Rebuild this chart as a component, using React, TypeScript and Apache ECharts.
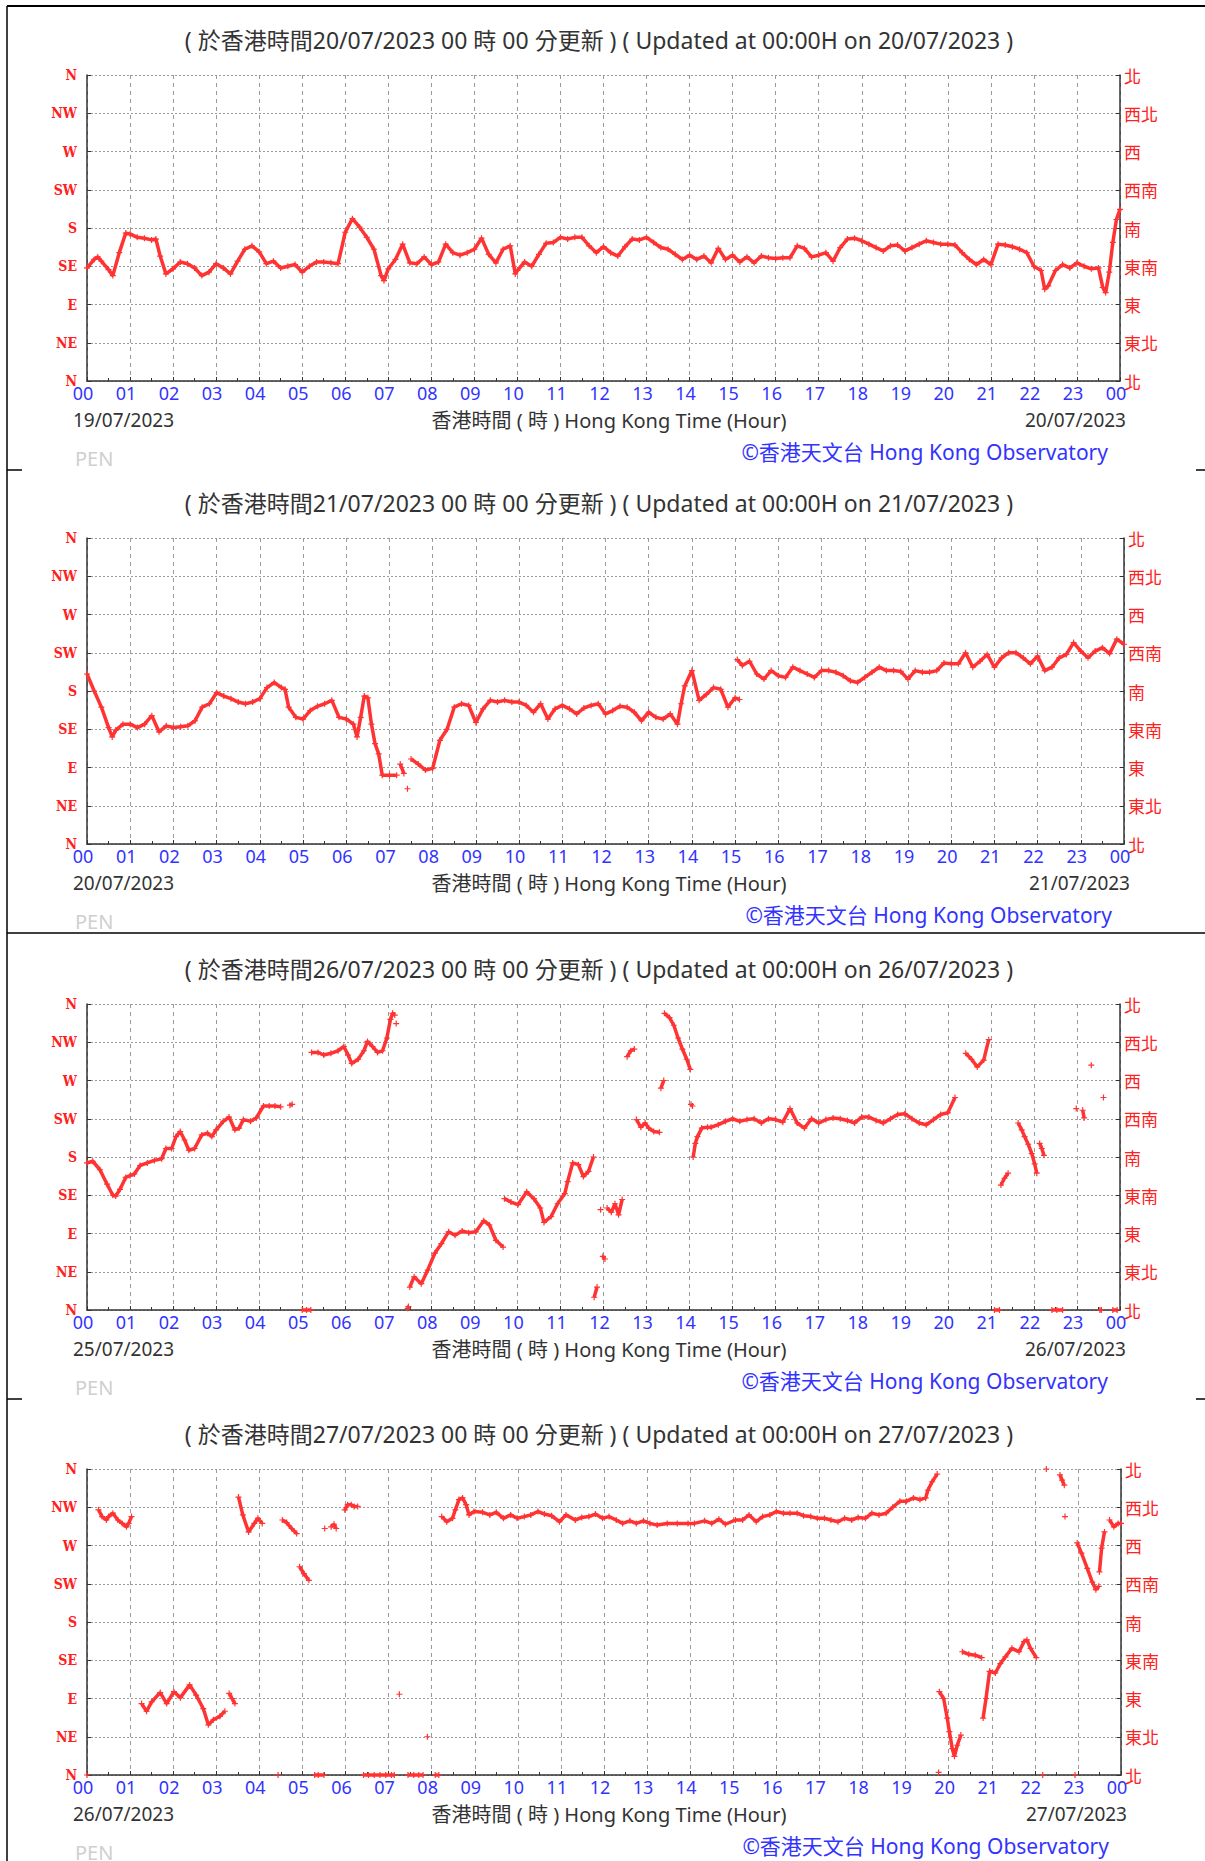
import React, { useEffect, useRef } from 'react';
import * as echarts from 'echarts';

// ---------------- data ----------------
const updateDates = ['20/07/2023', '21/07/2023', '26/07/2023', '27/07/2023'];
const startDates = ['19/07/2023', '20/07/2023', '25/07/2023', '26/07/2023'];
const endDates = ['20/07/2023', '21/07/2023', '26/07/2023', '27/07/2023'];
const hourLabels = ['00', '01', '02', '03', '04', '05', '06', '07', '08', '09', '10', '11', '12',
  '13', '14', '15', '16', '17', '18', '19', '20', '21', '22', '23', '00'];
const dirEn = ['N', 'NE', 'E', 'SE', 'S', 'SW', 'W', 'NW', 'N'];
const dirZh = ['北', '東北', '東', '東南', '南', '西南', '西', '西北', '北'];
const stationName = 'PEN';

type Obs = ([number, number] | null)[];
// [minutes after 00:00, wind direction in degrees]; null = gap in record

const panel1Obs: Obs = [
  [0, 133], [10, 143], [15, 146], [20, 141], [30, 131], [36, 124], [45, 151], [54, 174], [60, 173], [70, 169],
  [80, 168], [90, 166], [96, 167], [102, 147], [110, 126], [120, 132], [130, 140], [140, 138], [150, 133], [160, 124],
  [170, 128], [180, 138], [190, 133], [200, 126], [210, 141], [220, 155], [230, 159], [240, 152], [250, 138], [260, 141],
  [270, 133], [280, 135], [290, 137], [300, 128], [310, 135], [320, 140], [330, 140], [340, 139], [350, 138], [360, 175],
  [370, 191], [380, 181], [390, 169], [400, 155], [410, 124], [414, 118], [420, 132], [430, 143], [440, 161], [450, 139],
  [460, 138], [470, 146], [480, 137], [490, 140], [500, 161], [510, 151], [520, 148], [530, 151], [540, 155], [550, 168],
  [560, 149], [570, 139], [580, 155], [590, 159], [597, 126], [600, 130], [610, 140], [620, 135], [630, 149], [640, 162],
  [650, 163], [660, 169], [670, 167], [680, 169], [690, 169], [700, 159], [710, 151], [720, 158], [730, 151], [740, 147],
  [750, 158], [760, 167], [770, 166], [780, 169], [790, 163], [800, 157], [810, 155], [820, 149], [830, 143], [840, 148],
  [850, 143], [860, 147], [870, 139], [880, 156], [890, 143], [900, 148], [910, 140], [920, 146], [930, 139], [940, 147],
  [950, 145], [960, 144], [970, 145], [980, 145], [990, 159], [1000, 156], [1010, 146], [1020, 148], [1030, 151], [1040, 141],
  [1050, 157], [1060, 167], [1070, 168], [1080, 165], [1090, 161], [1100, 157], [1110, 153], [1120, 159], [1130, 160], [1140, 153],
  [1150, 157], [1160, 161], [1170, 165], [1180, 163], [1190, 161], [1200, 161], [1210, 160], [1220, 151], [1230, 143], [1240, 137],
  [1250, 143], [1260, 137], [1270, 161], [1280, 160], [1290, 158], [1300, 155], [1310, 151], [1320, 135], [1330, 130], [1335, 108],
  [1340, 112], [1350, 130], [1360, 137], [1370, 133], [1380, 139], [1390, 135], [1400, 132], [1410, 133], [1416, 110], [1420, 104],
  [1425, 128], [1430, 163], [1435, 190], [1440, 202],
];

const panel2Obs: Obs = [
  [0, 200], [10, 180], [20, 161], [30, 137], [35, 126], [40, 134], [50, 141], [60, 141], [70, 137], [80, 141],
  [90, 151], [100, 132], [110, 139], [120, 137], [130, 138], [140, 139], [150, 145], [160, 161], [170, 165], [180, 178],
  [190, 174], [200, 171], [210, 167], [220, 165], [230, 167], [240, 171], [250, 184], [260, 190], [270, 184], [275, 182],
  [280, 161], [290, 149], [300, 147], [310, 157], [320, 162], [330, 165], [340, 169], [350, 149], [360, 147], [370, 141],
  [375, 126], [380, 149], [385, 174], [390, 172], [395, 141], [400, 118], [405, 106], [410, 81], [420, 81], [430, 81],
  null, [435, 94], [440, 83], null, [445, 65], null,
  [450, 100], [460, 94], [470, 87], [480, 89], [490, 122], [500, 135], [510, 161], [520, 165], [530, 163], [540, 143],
  [550, 159], [560, 169], [570, 167], [580, 169], [590, 167], [600, 167], [610, 163], [620, 155], [630, 165], [640, 147],
  [650, 159], [660, 163], [670, 159], [680, 153], [690, 160], [700, 163], [710, 165], [720, 153], [730, 157], [740, 162],
  [750, 161], [760, 155], [770, 145], [780, 155], [790, 149], [800, 147], [810, 153], [820, 141], [825, 165], [830, 186],
  [840, 204], [850, 169], [860, 176], [870, 184], [880, 182], [890, 161], [900, 172], [906, 170], null,
  [903, 217], [910, 210], [920, 215], [930, 200], [940, 194], [950, 204], [960, 198], [970, 196], [980, 208], [990, 204],
  [1000, 200], [1010, 196], [1020, 204], [1030, 204], [1040, 202], [1050, 198], [1060, 192], [1070, 190], [1080, 196], [1090, 202],
  [1100, 208], [1110, 204], [1120, 204], [1130, 203], [1140, 194], [1150, 204], [1160, 202], [1170, 202], [1180, 204], [1190, 213],
  [1200, 212], [1210, 212], [1220, 225], [1230, 208], [1240, 215], [1250, 223], [1260, 208], [1270, 219], [1280, 225], [1290, 225],
  [1300, 219], [1310, 212], [1320, 221], [1330, 204], [1340, 208], [1350, 219], [1360, 223], [1370, 237], [1380, 227], [1390, 219],
  [1400, 227], [1410, 231], [1420, 224], [1430, 241], [1440, 235],
];

const panel3Obs: Obs = [
  [0, 173], [8, 175], [18, 165], [28, 148], [36, 135], [40, 134], [46, 142], [54, 156], [60, 158], [66, 160],
  [74, 170], [84, 173], [94, 176], [104, 178], [110, 190], [118, 190], [124, 204], [130, 210], [136, 200], [142, 188],
  [150, 190], [160, 206], [168, 208], [174, 204], [180, 212], [190, 222], [198, 227], [206, 212], [212, 214], [218, 224],
  [228, 222], [236, 226], [246, 240], [254, 240], [262, 240], [270, 239], null, [283, 241], [286, 242], null,
  [300, 0], [306, 0], [312, 0], null,
  [313, 303], [322, 303], [330, 300], [340, 302], [350, 305], [358, 310], [364, 300], [369, 290], [378, 295], [386, 305],
  [391, 316], [398, 310], [405, 303], [412, 305], [418, 320], [423, 342], [426, 349], [429, 347], null, [431, 337], null,
  [447, 2], [448, 4], null,
  [450, 27], [456, 39], [466, 31], [475, 47], [485, 67], [494, 78], [504, 92], [513, 88], [523, 93], [532, 91],
  [542, 92], [553, 105], [561, 100], [570, 82], [580, 74], null,
  [582, 131], [591, 127], [601, 124], [613, 139], [623, 131], [632, 120], [637, 103], [647, 110], [656, 125], [666, 137],
  [670, 151], [677, 173], [685, 171], [692, 157], [699, 163], [706, 180], null,
  [707, 15], [711, 27], null, [716, 118], null, [719, 63], [722, 60], null,
  [725, 120], [731, 115], [736, 125], [741, 112], [746, 130], null,
  [753, 298], [758, 305], [763, 307], null,
  [766, 224], [772, 215], [778, 220], [783, 214], [790, 210], [798, 209], null,
  [800, 261], [804, 270], null,
  [805, 349], [812, 344], [818, 335], [824, 320], [830, 307], [836, 295], [841, 283], null,
  [842, 242], [844, 240], null,
  [845, 180], [848, 196], [851, 204], [857, 214], [865, 215], [870, 215], [880, 218], [890, 222], [900, 225], [910, 222],
  [920, 224], [930, 225], [940, 220], [950, 225], [960, 224], [970, 221], [980, 237], [990, 220], [1000, 214], [1010, 225],
  [1020, 220], [1030, 224], [1040, 226], [1050, 225], [1060, 223], [1070, 220], [1080, 227], [1090, 227], [1100, 223], [1110, 220],
  [1120, 225], [1130, 230], [1140, 231], [1150, 225], [1160, 220], [1170, 218], [1180, 224], [1190, 230], [1200, 232], [1210, 250],
  null,
  [1225, 302], [1233, 295], [1241, 286], [1250, 294], [1257, 318], null,
  [1265, 0], [1272, 0], null,
  [1274, 147], [1279, 155], [1284, 161], null,
  [1298, 220], [1303, 212], [1307, 204], [1312, 195], [1317, 184], [1321, 172], [1324, 161], null,
  [1328, 196], [1331, 190], [1334, 182], null,
  [1345, 0], [1352, 0], [1360, 0], null,
  [1379, 237], null, [1388, 235], [1390, 226], null, [1400, 288], null,
  [1412, 0], [1414, 0], null, [1417, 250], null, [1430, 0], [1436, 0],
];

const panel4Obs: Obs = [
  [0, 0], null,
  [16, 312], [21, 304], [27, 300], [30, 304], [36, 308], [43, 300], [49, 296], [55, 292], [58, 296], [62, 304], null,
  [76, 84], [83, 75], [90, 86], [102, 97], [111, 84], [121, 98], [130, 91], [143, 106], [152, 94], [162, 78],
  [169, 59], [176, 65], [185, 69], [192, 75], null,
  [198, 96], [202, 90], [206, 84], null,
  [211, 327], [217, 306], [225, 286], [233, 296], [238, 302], [244, 296], null,
  [266, 0], null,
  [272, 300], [278, 297], [285, 290], [292, 284], null,
  [296, 245], [302, 237], [309, 229], null,
  [317, 0], [322, 0], [330, 0], null,
  [331, 290], null, [340, 292], [344, 295], [347, 290], null,
  [359, 312], [363, 318], [368, 318], [372, 316], [377, 316], null,
  [385, 0], [392, 0], [400, 0], [408, 0], [416, 0], [424, 0], [428, 0], null,
  [435, 95], null,
  [447, 0], [455, 0], [462, 0], [468, 0], null,
  [474, 45], null,
  [485, 0], [490, 0], null,
  [494, 304], [501, 298], [509, 302], [513, 312], [518, 324], [523, 326], [528, 318], [532, 306], [539, 310], [551, 309],
  [561, 306], [570, 309], [580, 302], [590, 306], [599, 302], [609, 304], [618, 306], [628, 310], [637, 307], [647, 305],
  [658, 298], [667, 306], [680, 300], [689, 303], [699, 304], [708, 307], [718, 302], [727, 304], [737, 300], [746, 296],
  [756, 299], [765, 296], [775, 299], [784, 296], [794, 294], [808, 296], [822, 296], [837, 296], [846, 296], [860, 299],
  [870, 296], [880, 301], [889, 295], [903, 300], [913, 300], [922, 306], [932, 298], [941, 304], [951, 306], [960, 310],
  [970, 308], [979, 308], [989, 308], [998, 305], [1008, 304], [1017, 302], [1027, 302], [1036, 300], [1046, 298], [1055, 302],
  [1065, 300], [1074, 303], [1084, 302], [1093, 308], [1103, 306], [1113, 308], [1122, 315], [1132, 322], [1141, 322], [1151, 326],
  [1160, 324], [1168, 326], [1171, 335], [1177, 345], [1184, 354], null,
  [1186, 3], null,
  [1187, 98], [1193, 90], [1198, 67], [1201, 51], [1205, 31], [1208, 22], [1212, 35], [1217, 47], null,
  [1219, 145], [1228, 142], [1237, 141], [1246, 138], null,
  [1248, 67], [1252, 90], [1257, 122], [1265, 120], [1272, 131], [1279, 139], [1288, 149], [1298, 145], [1305, 157], [1309, 159],
  [1314, 149], [1322, 138], null,
  [1331, 0], null, [1336, 360], null,
  [1355, 353], [1358, 347], [1361, 341], null, [1362, 304], null,
  [1376, 0], null,
  [1379, 273], [1385, 261], [1393, 243], [1400, 227], [1405, 218], [1409, 222], null,
  [1410, 239], [1413, 267], [1417, 286], null,
  [1424, 300], [1430, 292], [1436, 296], [1440, 296],
];

const panelObs = [panel1Obs, panel2Obs, panel3Obs, panel4Obs];

// ---------------- chart ----------------
const SANS = '"Noto Sans", "Noto Sans CJK TC", sans-serif';
const CJK = '"Noto Sans CJK TC", "Noto Sans", sans-serif';
const RED = '#ff3333';
const BLUE = '#3333ff';
const PLUS = 'path://M2 0H3V2H5V3H3V5H2V3H0V2H2Z';

function buildOption() {
  const tops = [75, 538, 1004, 1469];
  const widths = [1033, 1037, 1033, 1034];
  const left = 87;
  const height = 306;

  const grid: any[] = [];
  const xAxis: any[] = [];
  const yAxis: any[] = [];
  const series: any[] = [];
  const graphic: any[] = [];

  tops.forEach((top, k) => {
    const bottom = top + height;
    const right = left + widths[k];
    grid.push({ left, top, width: widths[k], height });
    xAxis.push({
      type: 'value', gridIndex: k, min: 0, max: 24, interval: 1,
      axisLine: { show: true, lineStyle: { color: '#333', width: 1.5 } },
      axisTick: { show: true, inside: true, length: 4, lineStyle: { color: '#333' } },
      minorTick: { show: true, splitNumber: 2, length: 3, lineStyle: { color: '#333' } },
      axisLabel: {
        color: BLUE, fontFamily: SANS, fontSize: 18, margin: 3, padding: [0, 8, 0, 0],
        formatter: (v: number) => hourLabels[Math.round(v)],
      },
      splitLine: { show: true, lineStyle: { color: '#9a9a9a', type: [4, 4], width: 1 } },
    });
    yAxis.push({
      type: 'value', gridIndex: k, min: 0, max: 360, interval: 45, position: 'left',
      axisLine: { show: true, lineStyle: { color: '#333', width: 1.5 } },
      axisTick: { show: true, inside: true, length: 4, lineStyle: { color: '#333' } },
      axisLabel: {
        color: '#ff2020', fontFamily: '"DejaVu Serif Condensed", "DejaVu Serif", serif', fontWeight: 'bold',
        fontSize: 14, margin: 10, formatter: (v: number) => dirEn[Math.round(v / 45)],
      },
      splitLine: { show: true, lineStyle: { color: '#9a9a9a', type: [2, 2], width: 1 } },
    });
    yAxis.push({
      type: 'value', gridIndex: k, min: 0, max: 360, interval: 45, position: 'right',
      axisLine: { show: true, lineStyle: { color: '#333', width: 1.5 } },
      axisTick: { show: true, inside: true, length: 4, lineStyle: { color: '#333' } },
      axisLabel: {
        color: '#ff2020', fontFamily: CJK, fontSize: 17, margin: 4,
        formatter: (v: number) => dirZh[Math.round(v / 45)],
      },
      splitLine: { show: false },
    });
    series.push({
      type: 'line', xAxisIndex: k, yAxisIndex: 2 * k,
      data: panelObs[k].map((p) => (p ? [p[0] / 60, p[1]] : ['-', '-'])),
      connectNulls: false, clip: false,
      symbol: PLUS, symbolSize: 6, showSymbol: true,
      itemStyle: { color: RED },
      lineStyle: { color: RED, width: 3.5 },
      silent: true,
    });

    const text = (t: string, x: number, y: number, opts: any) => ({
      type: 'text', x, y, silent: true,
      style: { text: t, fontFamily: SANS, fontSize: 19, fill: '#333', verticalAlign: 'middle', ...opts },
    });
    graphic.push(text(`( 於香港時間${updateDates[k]} 00 時 00 分更新 ) ( Updated at 00:00H on ${updateDates[k]} )`,
      599, top - 35, { align: 'center', fontSize: 23 }));
    graphic.push(text(startDates[k], 73, bottom + 39, { align: 'left' }));
    graphic.push(text('香港時間 ( 時 ) Hong Kong Time (Hour)', 609, bottom + 39, { align: 'center', fontSize: 20 }));
    graphic.push(text(endDates[k], right + 6, bottom + 39, { align: 'right' }));
    graphic.push(text(stationName, 75, bottom + 77, { align: 'left', fill: '#cfcfcf', fontSize: 20 }));
    graphic.push(text('©香港天文台 Hong Kong Observatory', right - 12, bottom + 71, { align: 'right', fill: BLUE, fontSize: 21 }));

    if (k < 3) {
      const dy = bottom + 89;
      if (k === 1) {
        graphic.push({ type: 'line', silent: true, shape: { x1: 7, y1: dy, x2: 1205, y2: dy }, style: { stroke: '#000', lineWidth: 1.5 } });
      } else {
        graphic.push({ type: 'line', silent: true, shape: { x1: 7, y1: dy, x2: 22, y2: dy }, style: { stroke: '#000', lineWidth: 1.5 } });
        graphic.push({ type: 'line', silent: true, shape: { x1: 1196, y1: dy, x2: 1205, y2: dy }, style: { stroke: '#000', lineWidth: 1.5 } });
      }
    }
  });

  graphic.push({ type: 'line', silent: true, shape: { x1: 7, y1: 6, x2: 1205, y2: 6 }, style: { stroke: '#000', lineWidth: 2 } });
  graphic.push({ type: 'line', silent: true, shape: { x1: 7, y1: 6, x2: 7, y2: 1861 }, style: { stroke: '#000', lineWidth: 1.5 } });

  return {
    animation: false,
    backgroundColor: '#fff',
    grid, xAxis, yAxis, series, graphic,
  };
}

export default function App() {
  const ref = useRef<HTMLDivElement>(null);
  useEffect(() => {
    const chart = echarts.init(ref.current!, null, { renderer: 'svg' });
    chart.setOption(buildOption() as any);
    return () => chart.dispose();
  }, []);
  return (
    <div
      ref={ref}
      style={{ position: 'absolute', left: 0, top: 0, width: 1205, height: 1861, background: '#fff' }}
    />
  );
}
